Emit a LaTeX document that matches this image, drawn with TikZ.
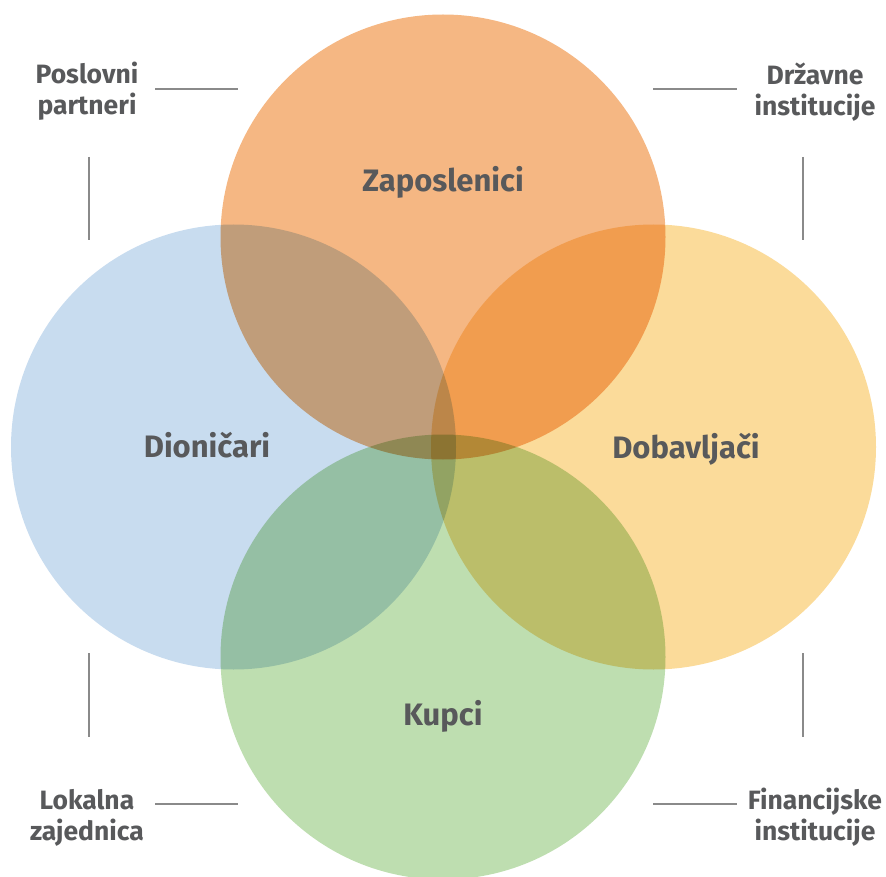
\documentclass[tikz,border=0pt]{standalone}
\usepackage{fontspec}
\setmainfont{Fira Sans}
\usetikzlibrary{positioning}
\definecolor{staffc}{HTML}{F5B783}
\definecolor{ownerc}{HTML}{C8DCEF}
\definecolor{supplc}{HTML}{FBDB9A}
\definecolor{buyerc}{HTML}{BEDEB0}
\definecolor{txtgray}{HTML}{58595B}
\definecolor{linegray}{HTML}{8A8A8A}

\begin{document}
\begin{tikzpicture}[
  x=1pt, y=-1pt,
  mainlbl/.style={text=txtgray, font=\bfseries\fontsize{31}{33}\selectfont,
    anchor=base, inner sep=0pt},
  sidelbl/.style={text=txtgray, font=\bfseries\fontsize{26.5}{31}\selectfont,
    align=center, anchor=base, inner sep=0pt},
  rule/.style={draw=linegray, line width=2pt},
]
\useasboundingbox (0,0) rectangle (886,877);

% the four stakeholder circles
\begin{scope}[blend group=multiply]
  \fill[staffc] (443,237) circle[radius=222.5];
  \fill[ownerc] (233.5,447) circle[radius=222.5];
  \fill[supplc] (653.5,447) circle[radius=222.5];
  \fill[buyerc] (443,657) circle[radius=222.5];
\end{scope}

\node[mainlbl] (staff) at (443,192) {Zaposlenici};
\node[mainlbl] (owner) at (207,457) {Dioničari};
\node[mainlbl] (suppl) at (686,458) {Dobavljači};
\node[mainlbl] (buyer) at (443,725) {Kupci};

% corner labels (base = last line)
\node[sidelbl] (partn) at (87,115) {Poslovni\\partneri};
\node[sidelbl] (state) at (815,116) {Državne\\institucije};
\node[sidelbl] (local) at (87,840) {Lokalna\\zajednica};
\node[sidelbl] (finan) at (815,840) {Financijske\\institucije};

% rules next to the corner labels
\coordinate (partn-h1) at (155,89);  \coordinate (partn-h2) at (238,89);
\coordinate (partn-v1) at (89,157);  \coordinate (partn-v2) at (89,240);
\coordinate (state-h1) at (653,89);  \coordinate (state-h2) at (737,89);
\coordinate (state-v1) at (803,157); \coordinate (state-v2) at (803,240);
\coordinate (local-h1) at (155,804); \coordinate (local-h2) at (238,804);
\coordinate (local-v1) at (89,653);  \coordinate (local-v2) at (89,737);
\coordinate (finan-h1) at (653,804); \coordinate (finan-h2) at (737,804);
\coordinate (finan-v1) at (803,653); \coordinate (finan-v2) at (803,737);
\foreach \c in {partn,state,local,finan}{
  \draw[rule] (\c-h1) -- (\c-h2);
  \draw[rule] (\c-v1) -- (\c-v2);
}
\end{tikzpicture}
\end{document}
